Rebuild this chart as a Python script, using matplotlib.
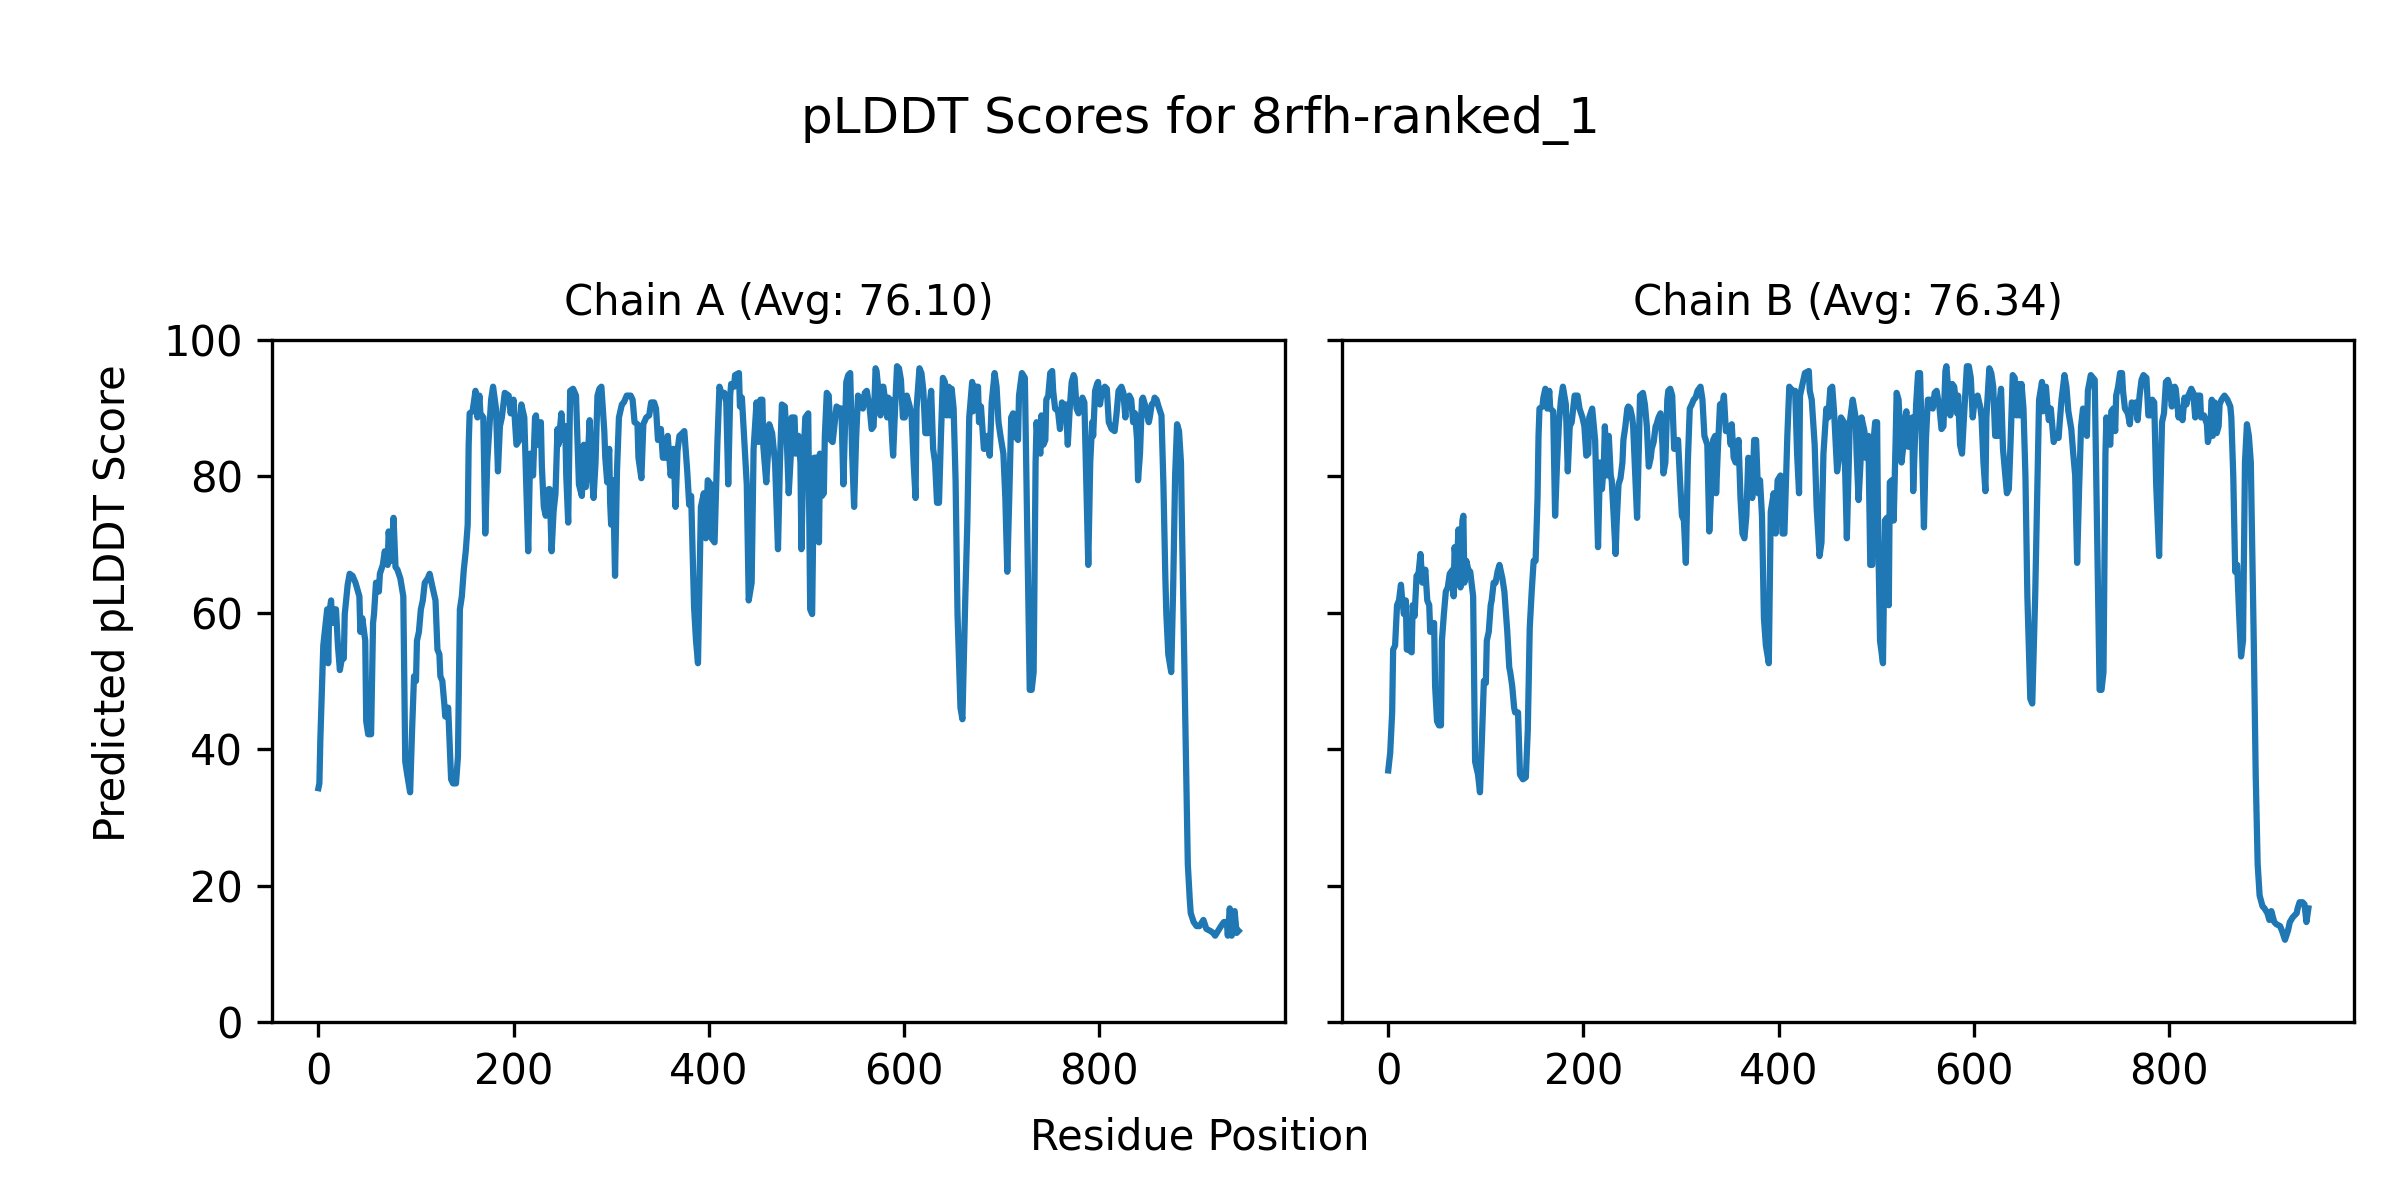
import matplotlib
matplotlib.use('Agg')
import matplotlib.pyplot as plt

model_name = '8rfh-ranked_1'
chain_ids = ['A', 'B']
chain_avg = [76.10, 76.34]

# (residue, pLDDT)
chain_a = [
    (0, 34.3), (1, 35.0), (2, 41.5), (5, 55.2), (9, 60.5), (10, 52.6), (11, 59.8), (13, 61.8),
    (14, 58.5), (16, 60.5), (18, 60.5), (20, 55.2), (22, 51.6), (24, 53.3), (26, 53.3), (27, 59.8),
    (30, 64.1), (32, 65.7), (35, 65.4), (38, 64.4), (42, 62.4), (43, 57.2), (45, 59.2), (48, 55.9),
    (49, 44.1), (51, 42.2), (54, 42.2), (56, 58.5), (57, 59.8), (59, 64.4), (62, 63.1), (63, 65.7),
    (66, 67.0), (68, 69.0), (71, 67.0), (72, 71.9), (75, 67.6), (77, 73.9), (78, 70.3), (79, 66.7),
    (81, 66.3), (84, 65.0), (87, 62.4), (89, 38.2), (91, 36.3), (94, 33.7), (96, 42.8), (98, 50.7),
    (100, 50.0), (101, 55.9), (103, 57.2), (105, 60.5), (107, 61.8), (109, 64.4), (112, 65.0),
    (114, 65.7), (117, 63.7), (120, 61.8), (122, 54.6), (124, 53.9), (125, 50.7), (127, 50.0),
    (129, 46.7), (130, 44.8), (133, 46.1), (136, 35.6), (138, 35.0), (141, 35.0), (143, 38.9),
    (145, 60.5), (147, 62.4), (149, 66.3), (151, 69.0), (153, 72.9), (154, 84.6), (155, 89.2),
    (158, 89.5), (159, 90.5), (161, 92.5), (163, 88.6), (165, 91.8), (166, 89.2), (169, 88.6),
    (171, 71.6), (173, 82.0), (175, 86.6), (177, 91.2), (179, 93.1), (182, 89.9), (184, 80.7),
    (186, 87.3), (188, 88.6), (191, 92.2), (195, 91.8), (197, 89.2), (200, 91.2), (203, 84.6),
    (206, 85.3), (208, 90.5), (211, 88.6), (215, 69.0),
    (217, 83.3), (220, 80.1), (222, 88.6), (223, 88.9), (225, 84.6), (228, 87.9), (229, 81.4),
    (231, 75.5), (233, 74.2), (236, 78.1), (237, 78.1), (239, 69.0), (241, 74.8), (243, 77.5),
    (245, 86.9), (246, 84.6), (249, 89.2), (251, 85.3), (253, 87.3), (254, 80.1), (256, 73.2),
    (258, 92.5), (261, 92.8), (264, 91.8), (265, 87.3), (267, 78.8), (270, 77.1), (272, 84.6),
    (274, 78.4), (277, 85.3), (278, 88.2), (280, 80.7), (282, 76.8), (284, 82.0), (286, 91.8),
    (288, 92.8), (290, 93.1), (293, 86.6), (294, 82.7), (296, 79.1), (298, 84.0), (299, 76.1),
    (300, 72.9), (302, 79.4), (304, 65.4), (306, 80.7), (308, 88.6), (311, 90.5), (313, 90.8),
    (316, 91.8), (320, 91.8), (322, 91.2), (324, 87.9), (327, 87.6), (328, 82.7), (331, 79.7),
    (333, 87.6), (336, 88.6), (339, 88.9), (341, 90.8), (344, 90.8), (346, 89.9), (348, 85.3),
    (351, 86.9), (353, 82.7), (356, 82.7), (358, 85.9), (361, 80.1), (364, 84.0), (366, 75.5),
    (368, 83.7), (370, 85.9), (373, 86.3), (375, 86.6), (378, 80.7), (380, 75.8), (382, 77.1),
    (385, 60.8), (387, 55.9), (389, 52.6), (392, 75.5), (395, 77.5), (397, 70.9), (399, 79.4),
    (402, 78.8), (403, 70.9), (406, 70.3), (409, 85.3), (411, 93.1), (414, 91.8), (416, 92.2),
    (418, 90.8), (420, 78.8), (422, 91.8), (423, 93.5), (426, 93.1), (427, 94.8), (431, 95.1),
    (432, 90.2), (434, 91.5), (437, 84.0), (439, 78.8), (441, 61.8), (444, 64.4), (446, 84.0),
    (449, 90.8), (451, 85.0), (453, 91.2), (455, 91.2), (456, 84.3), (459, 79.1), (461, 84.0),
    (462, 87.6), (465, 86.3), (468, 82.0), (471, 69.3),
    (473, 82.0), (475, 90.5), (478, 90.2), (480, 85.3), (482, 77.5), (484, 82.7), (485, 88.6),
    (488, 88.6), (489, 83.3), (490, 84.6), (492, 85.9), (494, 82.0), (495, 69.3), (497, 82.0),
    (499, 88.6), (502, 89.2), (503, 75.5), (504, 60.5), (506, 59.8), (508, 82.7), (511, 82.7),
    (513, 70.3), (514, 83.3), (516, 77.1), (518, 77.5), (519, 85.9), (521, 92.2), (523, 91.8),
    (525, 85.3), (527, 85.0), (529, 87.6), (531, 90.2), (534, 89.9), (536, 89.9), (538, 78.8),
    (541, 93.8), (543, 94.8), (545, 95.1), (547, 83.3), (549, 75.5), (551, 85.3), (553, 91.8),
    (555, 91.5), (558, 89.9), (560, 92.2), (562, 92.5), (565, 89.9), (567, 86.9), (569, 87.3),
    (571, 95.8), (572, 95.4), (574, 92.5), (576, 88.9), (578, 93.1), (579, 93.1), (583, 88.6),
    (584, 91.5), (586, 91.2), (588, 85.3), (589, 83.0), (591, 89.9), (593, 96.1), (595, 95.8),
    (597, 94.1), (599, 88.6), (601, 88.6), (603, 91.8), (606, 90.2), (608, 88.6), (610, 82.0),
    (612, 76.8), (613, 89.9), (616, 95.8), (618, 95.1), (620, 92.5), (622, 86.3), (625, 86.3),
    (626, 89.9), (628, 92.5), (630, 84.0), (632, 82.0), (634, 76.1), (636, 76.1), (638, 85.9),
    (640, 94.4), (642, 93.8), (644, 88.9), (646, 93.1), (647, 88.9), (649, 92.8), (651, 89.9),
    (653, 79.4), (655, 59.8), (658, 46.1), (660, 44.4), (663, 62.4), (665, 72.9), (667, 88.6),
    (670, 93.8), (671, 89.5), (673, 93.1), (676, 93.1), (677, 87.9), (679, 90.2), (682, 84.0),
    (683, 84.0), (686, 85.9), (688, 83.0), (690, 90.8), (693, 95.1), (695, 93.1), (697, 87.9),
    (699, 85.9), (702, 83.3), (704, 76.8), (706, 66.0), (708, 76.8), (710, 88.6), (712, 89.2),
    (714, 85.9), (717, 85.3), (718, 91.8), (721, 95.1), (724, 94.4),
    (729, 48.7), (731, 48.7), (733, 51.3), (735, 82.0), (736, 87.9), (738, 84.0), (740, 83.3),
    (741, 88.9), (743, 84.6), (745, 85.3), (746, 91.2), (748, 91.8), (750, 95.1), (752, 95.4),
    (753, 92.5), (755, 89.9), (758, 89.5), (760, 86.9), (762, 90.8), (764, 90.2), (766, 90.5),
    (768, 84.6), (770, 89.9), (772, 93.8), (774, 94.8), (775, 94.4), (777, 89.9), (779, 89.2),
    (781, 90.5), (783, 91.5), (785, 90.8), (787, 78.8), (789, 67.0), (791, 82.0), (793, 87.9),
    (794, 85.9), (796, 92.5), (798, 93.5), (799, 93.8), (801, 90.5), (803, 92.5), (806, 93.1),
    (808, 92.8), (810, 87.9), (813, 86.9), (816, 86.6), (818, 89.2), (820, 92.5), (823, 93.1),
    (825, 92.2), (827, 88.6), (828, 91.2), (831, 91.8), (833, 91.2), (835, 87.9), (837, 89.2),
    (839, 85.3), (840, 79.4), (842, 83.3), (844, 91.2), (845, 91.5), (847, 90.5), (849, 89.2),
    (851, 87.9), (852, 88.6), (854, 90.5), (856, 90.8), (857, 91.5), (859, 91.2), (861, 90.2),
    (864, 88.9), (866, 78.8), (868, 65.0), (869, 59.8), (871, 53.9), (874, 51.3), (876, 63.7),
    (878, 80.1), (880, 87.6), (882, 86.6), (884, 82.0), (885, 72.9), (887, 55.9), (889, 39.5),
    (891, 23.2), (893, 18.0), (894, 16.0), (897, 14.7), (900, 14.1), (903, 14.1), (907, 15.0),
    (910, 13.7), (914, 13.4), (917, 13.1), (919, 12.7), (922, 13.4), (925, 14.1), (928, 14.7),
    (931, 14.7), (932, 12.7), (934, 16.7), (936, 12.7), (938, 16.0), (939, 16.3), (941, 13.1),
    (943, 13.4),
]

chain_b = [
    (0, 36.9), (2, 39.5), (4, 45.4), (5, 54.6), (7, 55.2), (9, 61.1), (11, 61.8), (13, 64.1),
    (14, 62.4), (16, 59.8), (18, 61.8), (19, 54.6), (21, 54.6), (24, 54.2), (25, 61.1), (27, 59.5),
    (29, 65.4), (31, 65.7), (33, 68.6), (35, 64.4), (38, 66.3), (40, 61.8), (42, 61.1), (43, 57.2),
    (47, 58.5), (48, 49.3), (50, 44.1), (52, 43.5), (54, 43.5), (55, 55.9), (57, 59.8), (59, 63.1),
    (61, 63.7), (63, 65.7), (66, 66.3), (67, 62.4), (68, 69.6), (70, 66.3), (72, 72.2), (74, 63.7),
    (76, 73.5), (77, 74.2), (78, 64.4), (80, 67.6), (82, 66.3), (84, 66.0), (87, 62.4), (89, 38.2),
    (92, 36.3), (94, 33.7), (96, 41.5), (98, 50.0), (100, 49.7), (101, 55.9), (103, 57.2),
    (105, 61.1), (106, 61.8), (108, 64.4), (110, 64.4), (112, 66.0), (114, 67.0), (117, 65.0),
    (119, 63.1), (122, 57.2), (124, 52.0), (125, 51.3), (127, 49.3), (129, 46.1), (130, 45.4),
    (133, 45.4), (135, 36.3), (138, 35.6), (141, 35.9), (143, 42.8), (145, 57.8), (147, 63.1),
    (149, 67.6), (151, 67.6), (153, 76.8), (154, 85.9), (155, 89.9), (158, 90.2), (159, 91.5),
    (161, 92.8), (163, 89.9), (165, 92.5), (166, 89.9), (169, 89.5), (171, 74.2), (173, 82.0),
    (175, 87.9), (177, 91.2), (179, 93.1), (182, 90.5), (184, 80.7), (186, 87.3), (188, 87.9),
    (191, 91.8), (194, 91.8), (196, 89.9), (199, 88.6), (201, 87.3), (203, 83.0), (205, 83.3),
    (206, 88.6), (209, 89.9), (212, 85.3), (215, 69.6),
    (217, 82.0), (219, 78.1), (221, 82.0), (222, 87.3), (224, 80.1), (226, 85.9), (228, 80.1),
    (229, 79.4), (231, 74.2), (233, 68.6), (234, 72.9), (236, 78.8), (238, 79.7), (240, 82.0),
    (241, 85.3), (243, 87.3), (245, 89.9), (246, 90.2), (248, 89.9), (250, 88.6), (251, 87.3),
    (253, 80.7), (255, 73.9), (257, 85.3), (258, 91.8), (261, 92.2), (263, 90.5), (265, 87.3),
    (267, 81.4), (269, 82.7), (270, 84.0), (272, 85.0), (274, 87.3), (275, 87.6), (277, 88.6),
    (279, 89.2), (281, 84.6), (282, 80.4), (284, 82.0), (286, 91.2), (287, 92.5), (289, 92.8),
    (291, 91.8), (293, 84.0), (295, 84.0), (297, 85.3), (299, 79.4), (301, 74.2), (303, 73.5),
    (305, 67.3), (307, 82.0), (309, 89.9), (311, 90.5), (313, 91.2), (315, 91.5), (317, 92.5),
    (320, 93.1), (322, 91.2), (324, 85.9), (327, 84.6), (329, 71.9), (331, 78.1), (333, 85.3),
    (335, 85.9), (336, 77.5), (338, 84.6), (340, 90.5), (343, 90.8), (344, 91.8), (346, 86.6),
    (349, 87.3), (351, 84.6), (352, 87.6), (354, 82.7), (356, 82.0), (359, 85.3), (361, 76.8),
    (363, 71.6), (365, 70.9), (367, 74.2), (369, 82.7), (371, 82.0), (373, 76.8), (375, 85.3),
    (377, 85.3), (379, 77.5), (381, 79.4), (383, 74.2), (385, 59.2), (387, 55.2), (390, 52.6),
    (392, 74.8), (395, 77.5), (397, 71.6), (399, 79.4), (402, 80.1), (404, 71.6), (406, 71.6),
    (409, 85.9), (411, 93.1), (414, 92.5), (417, 92.5), (419, 83.3), (421, 77.5), (422, 91.8),
    (425, 93.8), (427, 95.1), (431, 95.4), (432, 92.5), (434, 91.2), (437, 84.6), (439, 75.5),
    (442, 68.3), (444, 70.3), (446, 83.3), (449, 89.9), (451, 88.6), (453, 92.8), (455, 93.1),
    (457, 89.2), (460, 80.7), (462, 82.7), (464, 88.6), (467, 87.9), (470, 70.9),
    (473, 87.9), (476, 91.2), (479, 88.6), (480, 83.3), (482, 76.5), (484, 82.0), (485, 88.6),
    (488, 86.6), (489, 82.7), (490, 85.3), (492, 85.9), (494, 67.0), (496, 67.0), (497, 84.6),
    (499, 87.9), (501, 87.9), (502, 72.2), (504, 55.9), (507, 52.6), (509, 73.5), (511, 73.9),
    (513, 61.1), (514, 79.1), (516, 79.4), (518, 73.5), (520, 85.3), (521, 92.2), (523, 91.2),
    (525, 85.3), (526, 82.0), (528, 84.6), (530, 88.6), (531, 89.5), (533, 84.3), (535, 85.3),
    (537, 88.6), (538, 77.8), (541, 90.5), (543, 95.1), (545, 95.1), (547, 84.6), (549, 72.5),
    (551, 85.3), (553, 91.2), (555, 91.2), (558, 89.9), (560, 92.2), (562, 92.5), (565, 89.9),
    (567, 86.9), (569, 87.3), (571, 95.4), (572, 96.1), (574, 92.5), (576, 88.9), (578, 93.5),
    (580, 93.1), (583, 89.2), (584, 91.8), (586, 84.6), (588, 83.3), (590, 88.6), (593, 96.1),
    (595, 96.1), (597, 94.4), (599, 88.6), (601, 91.2), (604, 91.8), (607, 89.9), (608, 88.6),
    (610, 82.0), (612, 77.8), (613, 88.6), (616, 95.8), (618, 95.1), (620, 93.1), (622, 85.9),
    (625, 85.9), (626, 90.2), (628, 92.8), (630, 84.0), (632, 80.7), (634, 77.5), (636, 78.1),
    (638, 85.9), (640, 94.8), (642, 94.4), (644, 88.9), (646, 93.5), (647, 88.9), (649, 93.5),
    (651, 89.9), (653, 80.1), (655, 62.4), (658, 47.4), (660, 46.7), (663, 62.4), (665, 76.8),
    (667, 91.2), (670, 93.8), (671, 89.5), (674, 93.1), (676, 89.5), (677, 88.2), (679, 89.9),
    (682, 85.0), (684, 85.9), (687, 85.6), (688, 87.6), (690, 91.2), (693, 94.8), (695, 93.1),
    (697, 89.5), (700, 86.9), (702, 83.3), (704, 80.1), (706, 67.3), (708, 78.1), (710, 87.3),
    (712, 89.9), (714, 88.9), (716, 85.9), (717, 92.5), (720, 94.8), (724, 94.1),
    (729, 48.7), (731, 48.7), (733, 51.3), (735, 83.3), (736, 88.6), (738, 85.3), (740, 84.6),
    (741, 89.5), (743, 89.9), (745, 86.6), (746, 91.8), (748, 93.1), (750, 95.1), (752, 95.1),
    (753, 92.5), (755, 89.9), (758, 89.2), (760, 87.6), (762, 90.8), (764, 90.2), (766, 90.8),
    (768, 88.2), (770, 91.8), (772, 94.1), (774, 94.8), (777, 94.4), (779, 88.9), (781, 88.9),
    (783, 91.2), (785, 90.8), (787, 78.8), (790, 68.3), (792, 82.0), (793, 87.9), (795, 89.2),
    (797, 93.8), (799, 94.1), (801, 93.1), (803, 90.2), (806, 93.1), (807, 92.8), (810, 88.6),
    (811, 89.9), (814, 88.2), (816, 91.5), (818, 90.5), (820, 91.8), (823, 92.8), (825, 92.2),
    (827, 88.6), (829, 91.8), (832, 91.8), (833, 88.6), (836, 88.9), (839, 87.6), (840, 85.0),
    (842, 86.3), (844, 91.2), (845, 85.9), (847, 90.8), (849, 86.3), (851, 87.3), (852, 90.5),
    (854, 91.2), (857, 91.8), (860, 91.2), (863, 90.2), (864, 88.6), (866, 80.1), (868, 66.0),
    (870, 67.0), (872, 59.8), (874, 53.6), (876, 55.9), (878, 82.0), (880, 87.6), (882, 85.9),
    (884, 82.0), (885, 73.5), (887, 55.9), (889, 36.3), (891, 23.2), (893, 18.6), (896, 17.0),
    (898, 16.7), (901, 16.0), (903, 15.0), (905, 16.3), (908, 14.7), (910, 14.4), (914, 14.1),
    (916, 13.4), (919, 12.1), (922, 13.4), (924, 14.7), (927, 15.4), (931, 16.0), (932, 16.7),
    (934, 17.6), (937, 17.6), (939, 17.3), (941, 14.7), (943, 16.7),
]

chains = [chain_a, chain_b]

fig, axes = plt.subplots(1, 2, figsize=(8, 4), sharey=True)

for ax, cid, avg, data in zip(axes, chain_ids, chain_avg, chains):
    res, plddt = zip(*data)
    ax.plot(res, plddt, color='tab:blue', linewidth=1.5)
    ax.set_title(f'Chain {cid} (Avg: {avg:.2f})', fontsize=10)
    ax.set_ylim(0, 100)

fig.suptitle(f'pLDDT Scores for {model_name}', fontsize=12, y=0.9, va='center')
fig.supxlabel('Residue Position', fontsize=10, y=0.052, va='center')
fig.supylabel('Predicted pLDDT Score', fontsize=10, x=0.047, y=0.497, va='center', ha='center')
plt.subplots_adjust(left=0.1135, right=0.981, top=0.717, bottom=0.148, wspace=0.057)

plt.savefig('out.png', dpi=300)
